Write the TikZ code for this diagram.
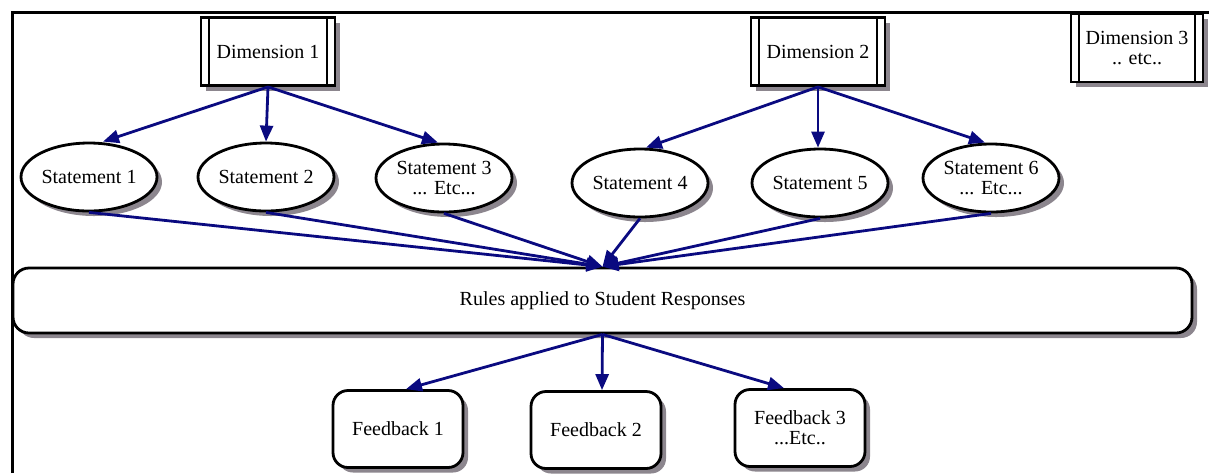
\documentclass[tikz,border=0pt]{standalone}
\usepackage{fontspec}
\setmainfont{Liberation Serif}
\usetikzlibrary{shapes.geometric,arrows.meta,shadows}
\definecolor{edgeblue}{RGB}{10,10,128}
\definecolor{shadowgray}{RGB}{140,134,142}
\begin{document}
\begin{tikzpicture}[x=0.5pt,y=-0.5pt,
  every node/.style={font=\fontsize{10}{10}\selectfont, align=center, inner sep=0pt},
  shad/.style={drop shadow={shadow xshift=2.5pt, shadow yshift=-2.5pt, fill=shadowgray, opacity=1}},
  dimbox/.style={draw, line width=1.4pt, fill=white, shad, minimum width=67pt, minimum height=34pt,
    path picture={\draw[line width=1.4pt]
      ([xshift=4pt]path picture bounding box.north west) -- ([xshift=4pt]path picture bounding box.south west)
      ([xshift=-4pt]path picture bounding box.north east) -- ([xshift=-4pt]path picture bounding box.south east);}},
  stmt/.style={ellipse, draw, line width=1.4pt, fill=white, shad, minimum width=68pt, minimum height=34pt},
  fbbox/.style={draw, line width=1.4pt, fill=white, shad, rounded corners=7.5pt, minimum width=65pt, minimum height=38.5pt},
  rulebox/.style={draw, line width=1.4pt, fill=white, shad, rounded corners=8pt, minimum width=589.5pt, minimum height=32.5pt},
  edge/.style={draw=edgeblue, line width=1.4pt, -{Triangle[length=8pt,width=6.5pt]}}]
\useasboundingbox (0,0) rectangle (1209,473);
\coordinate (fa) at (12,473);
\coordinate (fb) at (12,12.5);
\coordinate (fc) at (1209,12.5);
\draw[line width=1.5pt] (fa) -- (fb) -- (fc);

\node[dimbox] (d1) at (268,51.5) {Dimension 1};
\node[dimbox] (d2) at (818,51.5) {Dimension 2};
\node[dimbox, minimum width=66pt] (d3) at (1137,48) {Dimension 3\\.. etc..};

\node[stmt] (s1) at (89,177) {Statement 1};
\node[stmt] (s2) at (266,177) {Statement 2};
\node[stmt] (s3) at (444,178) {Statement 3\\... Etc...};
\node[stmt] (s4) at (640,183) {Statement 4};
\node[stmt] (s5) at (820,183) {Statement 5};
\node[stmt] (s6) at (991,178) {Statement 6\\... Etc...};

\node[rulebox] (r) at (602.5,300.5) {Rules applied to Student Responses};

\node[fbbox] (f1) at (398,429) {Feedback 1};
\node[fbbox] (f2) at (596,430) {Feedback 2};
\node[fbbox] (f3) at (800,428) {Feedback 3\\...Etc..};

\draw[edge] (d1.south) -- ([xshift=7pt]s1.north);
\draw[edge] (d1.south) -- (s2.north);
\draw[edge] (d1.south) -- ([xshift=-3pt]s3.north);
\draw[edge] (d2.south) -- ([xshift=3pt]s4.north);
\draw[edge] (d2.south) -- ([xshift=-1pt]s5.north);
\draw[edge] (d2.south) -- ([xshift=-3pt]s6.north);
\foreach \s in {s1,s2,s3,s4,s5,s6} \draw[edge] (\s.south) -- (r.north);
\draw[edge] (r.south) -- ([xshift=4pt]f1.north);
\draw[edge] (r.south) -- ([xshift=3pt]f2.north);
\draw[edge] (r.south) -- ([xshift=-8pt]f3.north);
\end{tikzpicture}
\end{document}
